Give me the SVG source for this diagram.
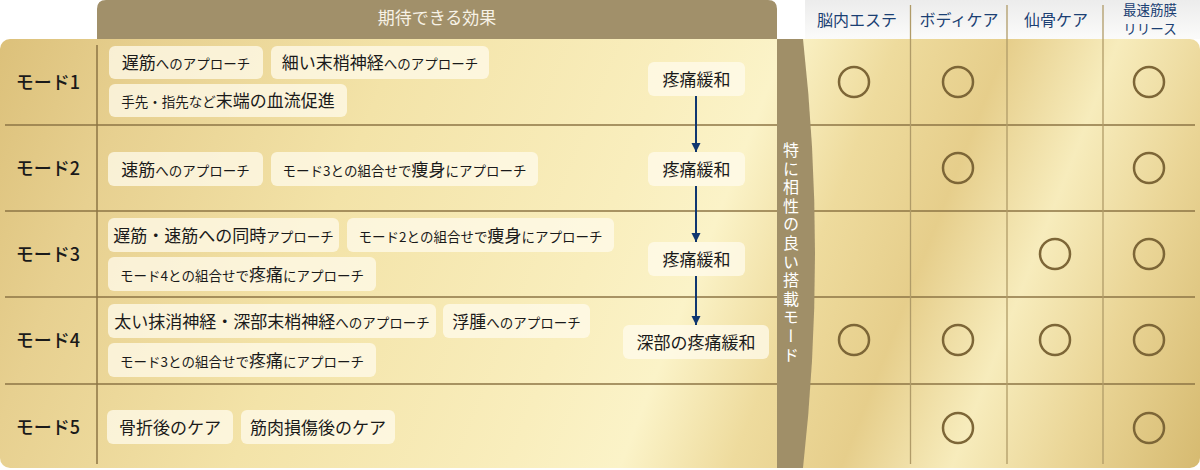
<svg xmlns="http://www.w3.org/2000/svg" width="1200" height="470" viewBox="0 0 1200 470">
<defs>
<linearGradient id="gold" gradientUnits="userSpaceOnUse" x1="0" y1="0" x2="1200" y2="470">
<stop offset="0" stop-color="#dbbf78"/>
<stop offset="0.12" stop-color="#e7d090"/>
<stop offset="0.3" stop-color="#f3e3a8"/>
<stop offset="0.5" stop-color="#f9eebd"/>
<stop offset="0.58" stop-color="#fbf3c8"/>
<stop offset="0.66" stop-color="#eedb9d"/>
<stop offset="0.74" stop-color="#e6ce8b"/>
<stop offset="0.82" stop-color="#f7ecbc"/>
<stop offset="0.9" stop-color="#ead596"/>
<stop offset="1" stop-color="#d6ba70"/>
</linearGradient>
<linearGradient id="hdr" x1="0" y1="0" x2="0" y2="1">
<stop offset="0" stop-color="#ececec"/>
<stop offset="1" stop-color="#fbfbfa"/>
</linearGradient>
<marker id="arr" markerUnits="userSpaceOnUse" markerWidth="10" markerHeight="10" refX="9" refY="5" orient="auto">
<path d="M0,0.5 L9,5 L0,9.5 z" fill="#0f3670"/>
</marker>
</defs>
<style>
.pill{fill:#fffbec;fill-opacity:0.75}
.t{font-family:"Noto Sans CJK JP","Noto Sans",sans-serif;fill:#1a1a1a;text-anchor:middle}
.L{font-size:17px}
.S{font-size:13.5px}
.mode{font-family:"Noto Sans CJK JP","Noto Sans",sans-serif;font-size:18px;font-weight:500;fill:#1a1a1a;text-anchor:middle}
.rule{stroke:#8c7545;stroke-width:1.5;fill:none}
.col{stroke:#b09b68;stroke-width:1.3;fill:none}
.mk{fill:none;stroke:#7d6637;stroke-width:2.5}
.hd{font-family:"Noto Sans CJK JP","Noto Sans",sans-serif;fill:#1b3f73;text-anchor:middle}
.conn{stroke:#0f3670;stroke-width:2;fill:none}
</style>
<rect width="1200" height="470" fill="#ffffff"/>
<rect id="panel" x="0" y="39" width="1200" height="429" rx="10" fill="url(#gold)"/>
<g id="header-effects">
<path d="M97,39 L97,9 Q97,0 106,0 L768,0 Q777,0 777,9 L777,39 Z" fill="#a1906a"/>
<text x="437" y="24" font-family="'Noto Sans CJK JP','Noto Sans',sans-serif" font-size="17" fill="#f7f2e6" text-anchor="middle">期待できる効果</text>
</g>
<g id="header-cols">
<rect x="805" y="0" width="395" height="39" fill="url(#hdr)"/>
<text class="hd" x="857" y="26" font-size="16">脳内エステ</text>
<text class="hd" x="959" y="26" font-size="16">ボディケア</text>
<text class="hd" x="1056" y="26" font-size="16">仙骨ケア</text>
<text class="hd" x="1150" y="15" font-size="13.5">最速筋膜</text>
<text class="hd" x="1150" y="33.5" font-size="13.5">リリース</text>
</g>
<g id="grid">
<line class="rule" x1="97" y1="45" x2="97" y2="464"/>
<line class="rule" x1="5" y1="125" x2="777" y2="125"/>
<line class="rule" x1="5" y1="211" x2="777" y2="211"/>
<line class="rule" x1="5" y1="297" x2="777" y2="297"/>
<line class="rule" x1="5" y1="384" x2="777" y2="384"/>
<line class="rule" x1="805" y1="125" x2="1195" y2="125"/>
<line class="rule" x1="805" y1="211" x2="1195" y2="211"/>
<line class="rule" x1="805" y1="297" x2="1195" y2="297"/>
<line class="rule" x1="805" y1="384" x2="1195" y2="384"/>
<line class="col" x1="910.5" y1="5" x2="910.5" y2="464"/>
<line class="col" x1="1007" y1="5" x2="1007" y2="464"/>
<line class="col" x1="1103" y1="5" x2="1103" y2="464"/>
</g>
<g id="band">
<path d="M777,39 L803,39 Q827,254 803,468 L777,468 Z" fill="#a08f68"/>
<text x="791" y="142" font-family="'Noto Sans CJK JP','Noto Sans',sans-serif" font-size="16" fill="#ffffff" style="writing-mode:vertical-rl;text-orientation:upright" letter-spacing="2.6">特に相性の良い搭載モード</text>
</g>
<g id="mode1"><text class="mode" x="48" y="89">モード1</text></g>
<g id="mode2"><text class="mode" x="48" y="175">モード2</text></g>
<g id="mode3"><text class="mode" x="48" y="261">モード3</text></g>
<g id="mode4"><text class="mode" x="48" y="347">モード4</text></g>
<g id="mode5"><text class="mode" x="48" y="434">モード5</text></g>
<g id="r1a"><rect class="pill" x="109" y="46" width="154" height="33" rx="6"/><text class="t" x="186" y="69"><tspan class="L">遅筋</tspan><tspan class="S">へのアプローチ</tspan></text></g>
<g id="r1b"><rect class="pill" x="271" y="46" width="218" height="33" rx="6"/><text class="t" x="380" y="69"><tspan class="L">細い末梢神経</tspan><tspan class="S">へのアプローチ</tspan></text></g>
<g id="r1c"><rect class="pill" x="109" y="84" width="238" height="33" rx="6"/><text class="t" x="228" y="107"><tspan class="S">手先・指先など</tspan><tspan class="L">末端の血流促進</tspan></text></g>
<g id="r2a"><rect class="pill" x="108" y="152" width="155" height="34" rx="6"/><text class="t" x="185.5" y="175.5"><tspan class="L">速筋</tspan><tspan class="S">へのアプローチ</tspan></text></g>
<g id="r2b"><rect class="pill" x="271" y="152" width="267" height="34" rx="6"/><text class="t" x="404.5" y="175.5"><tspan class="S">モード3との組合せで</tspan><tspan class="L">痩身</tspan><tspan class="S">にアプローチ</tspan></text></g>
<g id="r3a"><rect class="pill" x="108" y="218" width="231" height="34" rx="6"/><text class="t" x="223.5" y="241.5"><tspan class="L">遅筋・速筋への同時</tspan><tspan class="S">アプローチ</tspan></text></g>
<g id="r3b"><rect class="pill" x="347" y="218" width="267" height="34" rx="6"/><text class="t" x="480.5" y="241.5"><tspan class="S">モード2との組合せで</tspan><tspan class="L">痩身</tspan><tspan class="S">にアプローチ</tspan></text></g>
<g id="r3c"><rect class="pill" x="108" y="257" width="268" height="34" rx="6"/><text class="t" x="242" y="280.5"><tspan class="S">モード4との組合せで</tspan><tspan class="L">疼痛</tspan><tspan class="S">にアプローチ</tspan></text></g>
<g id="r4a"><rect class="pill" x="108" y="304" width="328" height="34" rx="6"/><text class="t" x="272" y="327.5"><tspan class="L">太い抹消神経・深部末梢神経</tspan><tspan class="S">へのアプローチ</tspan></text></g>
<g id="r4b"><rect class="pill" x="443" y="304" width="147" height="34" rx="6"/><text class="t" x="516.5" y="327.5"><tspan class="L">浮腫</tspan><tspan class="S">へのアプローチ</tspan></text></g>
<g id="r4c"><rect class="pill" x="108" y="343" width="268" height="34" rx="6"/><text class="t" x="242" y="366.5"><tspan class="S">モード3との組合せで</tspan><tspan class="L">疼痛</tspan><tspan class="S">にアプローチ</tspan></text></g>
<g id="r5a"><rect class="pill" x="107" y="410" width="126" height="34" rx="6"/><text class="t L" x="170" y="433.5">骨折後のケア</text></g>
<g id="r5b"><rect class="pill" x="241" y="410" width="154" height="34" rx="6"/><text class="t L" x="318" y="433.5">筋肉損傷後のケア</text></g>
<g id="e1"><rect class="pill" x="648" y="62" width="97" height="34" rx="6"/><text class="t L" x="696.5" y="85.5">疼痛緩和</text></g>
<g id="e2"><rect class="pill" x="648" y="152" width="97" height="34" rx="6"/><text class="t L" x="696.5" y="175.5">疼痛緩和</text></g>
<g id="e3"><rect class="pill" x="648" y="242" width="97" height="34" rx="6"/><text class="t L" x="696.5" y="265.5">疼痛緩和</text></g>
<g id="e4"><rect class="pill" x="623" y="325" width="146" height="34" rx="6"/><text class="t L" x="696" y="348.5">深部の疼痛緩和</text></g>
<g id="connectors">
<line class="conn" x1="696" y1="96" x2="696" y2="152" marker-end="url(#arr)"/>
<line class="conn" x1="696" y1="186" x2="696" y2="242" marker-end="url(#arr)"/>
<line class="conn" x1="696" y1="276" x2="696" y2="325" marker-end="url(#arr)"/>
</g>
<g id="marks">
<circle class="mk" cx="854" cy="82" r="15"/>
<circle class="mk" cx="958" cy="82" r="15"/>
<circle class="mk" cx="1149" cy="82" r="15"/>
<circle class="mk" cx="958" cy="168" r="15"/>
<circle class="mk" cx="1149" cy="168" r="15"/>
<circle class="mk" cx="1055" cy="254" r="15"/>
<circle class="mk" cx="1149" cy="254" r="15"/>
<circle class="mk" cx="854" cy="340" r="15"/>
<circle class="mk" cx="958" cy="340" r="15"/>
<circle class="mk" cx="1055" cy="340" r="15"/>
<circle class="mk" cx="1149" cy="340" r="15"/>
<circle class="mk" cx="958" cy="428" r="15"/>
<circle class="mk" cx="1149" cy="428" r="15"/>
</g>
</svg>
